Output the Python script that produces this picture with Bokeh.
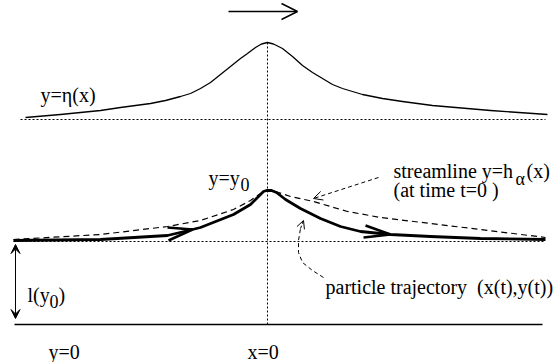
from bokeh.plotting import figure
from bokeh.models import Range1d, Arrow, OpenHead, VeeHead
from bokeh.core.properties import value
from bokeh.embed import file_html
from bokeh.resources import INLINE

# ---- data (diagram units: x=0 at crest, y=0 at bottom wall) ----
eta_x = [-242, -207, -167, -147, -117, -102, -87, -77, -67, -57, -47, -37, -27, -20, -12, -6, 0,
         6, 15, 25, 35, 45, 55, 65, 75, 95, 115, 135, 165, 223, 280]
eta_y = [207, 210, 214, 217, 221, 224, 228, 231, 236, 242, 250, 258, 266, 271, 277, 280.5, 282,
         280.5, 276, 268, 259, 252, 246, 240, 236, 230, 226, 223, 219, 214, 210]
eta_base_y = 205

stream_x = [-254, -167, -100, -67, -34, -17, -7, 0, 8, 23, 46, 80, 113, 163, 213, 278]
stream_y = [85, 90, 98, 104, 115, 124, 131, 134, 133, 128, 123, 113, 107, 101, 95, 87]

traj_x = [-254, -167, -100, -75, -67, -34, -17, -9, -4, -1, 4, 9, 18, 33, 53, 73, 93,
          123, 163, 213, 278]
traj_y = [84, 85, 89, 95, 97, 110, 120, 128, 133, 134, 134, 132, 125, 116, 106, 98, 93,
          90, 88, 86, 85]
y0_level = 83

# open arrowheads on trajectory: tip, barb1, barb2
head_tip_x = [-75, 123]
head_tip_y = [95, 90]
head_b1_x = [-100, 98]
head_b1_y = [97, 99]
head_b2_x = [-99, 96]
head_b2_y = [84, 87]

curl_x = [56, 45, 35, 31, 31, 33, 36]
curl_y = [47, 54, 62, 72, 84, 96, 104]

x_left, x_right = -254, 278

p = figure(width=556, height=362, output_backend="svg", toolbar_location=None,
           x_range=Range1d(-267, 289), y_range=Range1d(-38, 324),
           min_border=0, outline_line_color=None)
p.axis.visible = False
p.grid.visible = False
p.background_fill_color = "white"
p.border_fill_color = "white"

dot = "2 2"
# baselines
p.line([-247, 278], [eta_base_y, eta_base_y], line_color="black", line_width=1, line_dash=dot)
p.line([x_left, x_right], [y0_level, y0_level], line_color="black", line_width=1, line_dash=dot)
p.line([0, 0], [0, 282], line_color="black", line_width=1, line_dash=dot)
p.line([-253, 275], [0, 0], line_color="black", line_width=1.5)

# surface
p.line(eta_x, eta_y, line_color="black", line_width=1.3, line_join="round")
# streamline
p.line(stream_x, stream_y, line_color="black", line_width=1.2, line_dash="6 4")
# trajectory
p.line(traj_x, traj_y, line_color="black", line_width=2.8, line_join="round")
p.segment(head_b1_x, head_b1_y, head_tip_x, head_tip_y, line_color="black", line_width=2.5)
p.segment(head_b2_x, head_b2_y, head_tip_x, head_tip_y, line_color="black", line_width=2.5)

# top wave direction arrow
p.add_layout(Arrow(end=OpenHead(size=16, line_width=1.5, line_color="black"),
                   x_start=-39, y_start=313, x_end=30, y_end=313,
                   line_width=1.5, line_color="black"))
# depth double arrow
p.add_layout(Arrow(start=VeeHead(size=9, fill_color="black", line_color="black"),
                   end=VeeHead(size=9, fill_color="black", line_color="black"),
                   x_start=-252, y_start=6, x_end=-252, y_end=80,
                   line_width=1, line_color="black"))
# annotation arrows
p.add_layout(Arrow(end=OpenHead(size=9, line_width=1, line_color="black"),
                   x_start=111, y_start=147, x_end=46, y_end=126,
                   line_width=1, line_color="black", line_dash="4 3"))
p.line(curl_x[:-1], curl_y[:-1], line_color="black", line_width=1, line_dash="4 3")
p.add_layout(Arrow(end=OpenHead(size=8, line_width=1, line_color="black"),
                   x_start=curl_x[-2], y_start=curl_y[-2], x_end=curl_x[-1], y_end=curl_y[-1],
                   line_width=1, line_color="black", line_dash="3 2"))

font = value("Liberation Serif")
def txt(x, y, s, size="20px"):
    p.text(x=[x], y=[y], text=[s], text_font=font, text_font_size=size,
           text_baseline="alphabetic", text_align="left", text_color="black")

txt(-227, 230, "y=η(x)")
txt(-59, 147, "y=y")
txt(-27, 140, "0", "18px")
txt(126, 154, "streamline y=h")
txt(248, 146, "α", "18px")
txt(259, 154, "(x)")
txt(126, 135, "(at time t=0 )")
txt(58, 38, "particle trajectory\u00a0 (x(t),y(t))")
txt(-240, 30, "l(y")
txt(-218, 23, "0", "18px")
txt(-209, 30, ")")
txt(-219, -27, "y=0")
txt(-20, -27, "x=0")

open("out.html", "w").write(file_html(p, INLINE))
